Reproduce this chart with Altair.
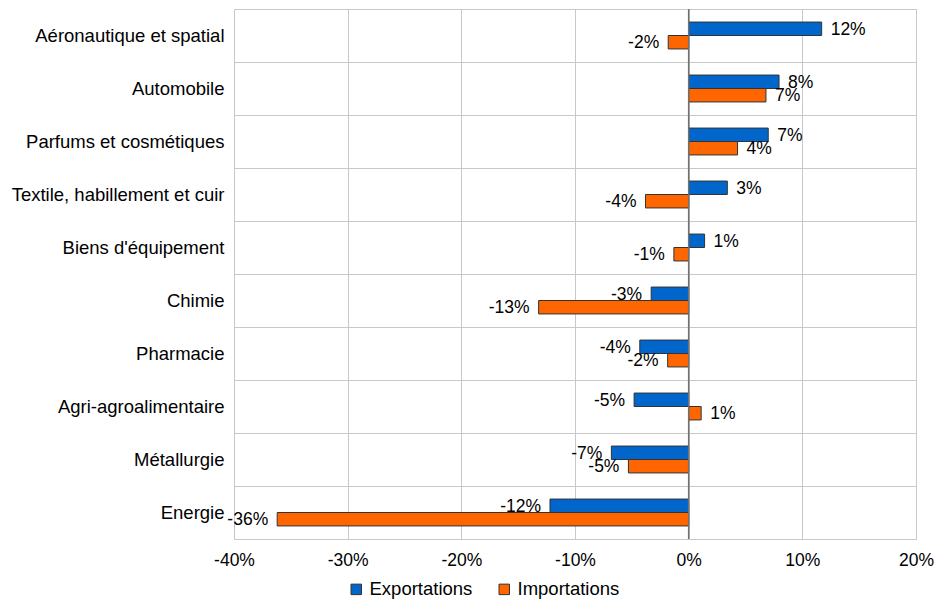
import altair as alt
import pandas as pd

categories = [
    "Aéronautique et spatial",
    "Automobile",
    "Parfums et cosmétiques",
    "Textile, habillement et cuir",
    "Biens d'équipement\u00a0",
    "Chimie",
    "Pharmacie",
    "Agri-agroalimentaire",
    "Métallurgie",
    "Energie",
]
series = ["Exportations", "Importations"]
exports_pct = [11.7, 7.95, 7.0, 3.4, 1.4, -3.3, -4.3, -4.8, -6.8, -12.2]
imports_pct = [-1.8, 6.8, 4.3, -3.8, -1.3, -13.2, -1.85, 1.1, -5.3, -36.2]
x_ticks = [-0.4, -0.3, -0.2, -0.1, 0.0, 0.1, 0.2]
colors = ["#0066CC", "#FF6600"]

rows = []
for c, e, i in zip(categories, exports_pct, imports_pct):
    rows.append({"cat": c, "series": series[0], "v": e / 100})
    rows.append({"cat": c, "series": series[1], "v": i / 100})
df = pd.DataFrame(rows)

FONT = "Liberation Sans"

y_enc = alt.Y(
    "cat:N",
    sort=categories,
    scale=alt.Scale(paddingInner=0, paddingOuter=0),
    axis=alt.Axis(
        title=None, grid=True, tickBand="extent", domain=False, ticks=False,
        labelPadding=10, labelFontSize=18.5, labelColor="#000000", labelFont=FONT,
        labelLimit=400, gridColor="#c8c8c8", gridWidth=1,
    ),
)
yoff_enc = alt.YOffset(
    "series:N", sort=series, scale=alt.Scale(paddingInner=0, paddingOuter=0.97)
)
x_enc = alt.X(
    "v:Q",
    scale=alt.Scale(domain=[-0.4, 0.2], nice=False, zero=False),
    axis=alt.Axis(
        title=None, values=x_ticks, grid=True, ticks=False, domain=False,
        labelPadding=12, labelFontSize=17.5, labelColor="#000000", labelFont=FONT,
        labelFlush=False, labelOverlap=False,
        gridColor="#c8c8c8", gridWidth=1,
        labelExpr="(datum.value < -0.0001 ? '-' : '') + format(abs(datum.value) * 100, '.0f') + '%'",
    ),
)

base = alt.Chart(df)

bars = base.mark_bar(stroke="#333333", strokeWidth=1).encode(
    y=y_enc,
    yOffset=yoff_enc,
    x=x_enc,
    color=alt.Color(
        "series:N",
        sort=series,
        scale=alt.Scale(domain=series, range=colors),
        legend=alt.Legend(
            title=None, orient="none", direction="horizontal",
            legendX=113, legendY=571,
            symbolType="square", symbolSize=110, symbolStrokeColor="#333333",
            symbolStrokeWidth=1, symbolOpacity=1,
            labelFontSize=18.5, labelFont=FONT, labelColor="#000000",
            labelOffset=4, columnPadding=22,
        ),
    ),
)

zero = alt.Chart(pd.DataFrame({"z": [0.0]})).mark_rule(color="#707070", strokeWidth=1.5).encode(
    x=alt.X("z:Q", scale=alt.Scale(domain=[-0.4, 0.2], nice=False, zero=False))
)

labeled = base.transform_calculate(
    lab="(datum.v < 0 ? '-' : '') + format(abs(datum.v) * 100, '.0f') + '%'"
)
txt_pos = labeled.transform_filter("datum.v >= 0").mark_text(
    align="left", baseline="middle", dx=9, dy=1, fontSize=17.5, font=FONT, color="#000000"
).encode(y=alt.Y("cat:N", sort=categories), yOffset=alt.YOffset("series:N", sort=series), x="v:Q", text="lab:N")
txt_neg = labeled.transform_filter("datum.v < 0").mark_text(
    align="right", baseline="middle", dx=-9, dy=1, fontSize=17.5, font=FONT, color="#000000"
).encode(y=alt.Y("cat:N", sort=categories), yOffset=alt.YOffset("series:N", sort=series), x="v:Q", text="lab:N")

chart = (
    alt.layer(bars, zero, txt_pos, txt_neg)
    .properties(
        width=682, height=530,
        autosize=alt.AutoSizeParams(type="none"),
        padding={"left": 226, "top": 1, "right": 20, "bottom": 62},
    )
    .configure_view(stroke="#404040", strokeWidth=1)
    .configure(font=FONT)
)

chart.save("out.html", embed_options={"renderer": "svg", "actions": False})
